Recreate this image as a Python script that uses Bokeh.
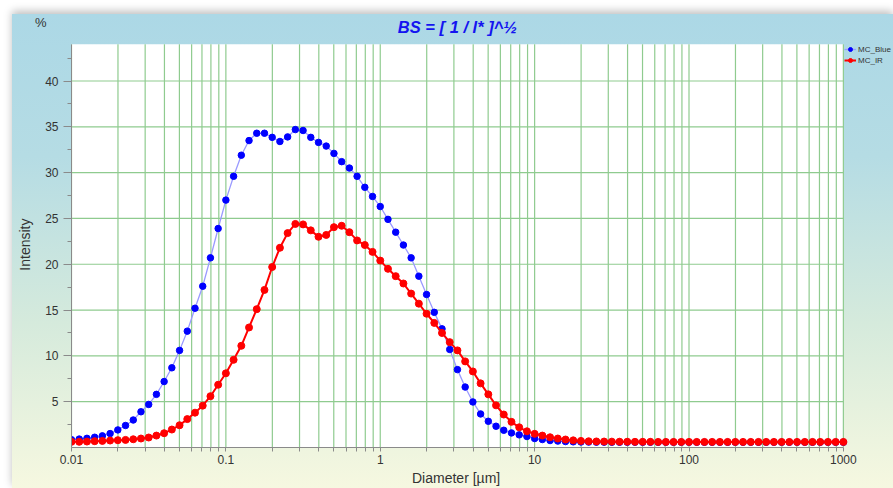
import numpy as np
from bokeh.plotting import figure
from bokeh.models import Legend, LegendItem, FixedTicker, Label, LinearAxis, LogAxis, BoxAnnotation
from bokeh.embed import file_html
from bokeh.resources import INLINE

# Diameter bins (20 per decade, 0.01 .. 1000 µm)
diameter = np.logspace(-2, 3, 101)

mc_blue = [
    0.85, 0.92, 1.00, 1.12, 1.27, 1.52, 1.92, 2.40, 3.00, 3.90,
    4.70, 5.80, 7.20, 8.70, 10.6, 12.7, 15.2, 17.6, 20.7, 23.9,
    27.0, 29.6, 31.9, 33.5, 34.3, 34.3, 33.85, 33.4, 33.9, 34.7,
    34.6, 33.85, 33.3, 32.9, 32.1, 31.2, 30.5, 29.6, 28.4, 27.4,
    26.3, 24.9, 23.5, 22.1, 20.7, 18.7, 16.7, 14.75, 12.95, 10.7,
    8.50, 6.60, 4.97, 3.66, 2.86, 2.32, 1.88, 1.59, 1.38, 1.20,
    0.98, 0.87, 0.76, 0.70, 0.65, 0.62, 0.60, 0.59, 0.58, 0.58,
    0.57, 0.57, 0.57, 0.57, 0.57, 0.57, 0.57, 0.57, 0.57, 0.57,
    0.57, 0.57, 0.57, 0.57, 0.57, 0.57, 0.57, 0.57, 0.57, 0.57,
    0.57, 0.57, 0.57, 0.57, 0.57, 0.57, 0.57, 0.57, 0.57, 0.57,
    0.57,
]

mc_ir = [
    0.62, 0.62, 0.65, 0.69, 0.72, 0.76, 0.80, 0.83, 0.90, 0.98,
    1.09, 1.30, 1.56, 1.96, 2.43, 3.10, 3.80, 4.57, 5.60, 6.85,
    8.10, 9.57, 11.1, 13.1, 15.1, 17.2, 19.7, 21.8, 23.4, 24.4,
    24.35, 23.7, 23.0, 23.2, 24.05, 24.2, 23.5, 22.6, 22.1, 21.35,
    20.4, 19.5, 18.7, 17.9, 16.8, 15.7, 14.6, 13.6, 12.5, 11.5,
    10.6, 9.40, 8.30, 7.00, 5.80, 4.60, 3.60, 2.80, 2.20, 1.77,
    1.49, 1.30, 1.12, 0.98, 0.87, 0.78, 0.72, 0.68, 0.66, 0.65,
    0.64, 0.63, 0.63, 0.62, 0.62, 0.62, 0.61, 0.61, 0.61, 0.61,
    0.61, 0.61, 0.61, 0.61, 0.61, 0.61, 0.61, 0.61, 0.61, 0.61,
    0.61, 0.61, 0.61, 0.61, 0.61, 0.61, 0.61, 0.61, 0.61, 0.61,
    0.61,
]

x_ticks = [0.01, 0.1, 1, 10, 100, 1000]
x_tick_labels = ["0.01", "0.1", "1", "10", "100", "1000"]
x_minor = [m * d for d in [0.01, 0.1, 1, 10, 100] for m in range(2, 10)]
y_ticks = [5, 10, 15, 20, 25, 30, 35, 40]
y_minor = [2.5, 7.5, 12.5, 17.5, 22.5, 27.5, 32.5, 37.5, 42.5]

X_MIN, X_MAX = 0.01, 1000
Y_MIN, Y_MAX = 0, 44
# extra room inside the frame for the title (top) and the legend (right)
X_VIEW_MAX = 2112
Y_VIEW_MAX = 47.26

FONT = "Liberation Sans"
GRID = "#8fcb8f"
TXT = "#333333"

p = figure(
    width=881, height=474, title=None,
    x_axis_type="log", x_range=(X_MIN, X_VIEW_MAX), y_range=(Y_MIN, Y_VIEW_MAX),
    output_backend="svg", toolbar_location=None,
    border_fill_color=None, background_fill_color=None,
    min_border_left=59, min_border_right=0, min_border_top=0, min_border_bottom=40,
    margin=(14, 0, 0, 12),
    styles={
        "background-image": "linear-gradient(to bottom, #acd8e6 0%, #b5dce4 30%, #d5eadc 65%, #f6f8e0 100%)",
        "box-shadow": "0 -3px 8px rgba(0,0,0,0.25)",
    },
)
p.outline_line_color = None
p.xgrid.visible = False
p.ygrid.visible = False

# white plotting area
p.add_layout(BoxAnnotation(left=X_MIN, right=X_MAX, bottom=Y_MIN, top=Y_MAX,
                           fill_color="white", fill_alpha=1, line_color=None, level="underlay"))

# grid lines limited to the plotting area
vx = x_ticks + x_minor
p.segment(x0=vx, y0=[Y_MIN] * len(vx), x1=vx, y1=[Y_MAX] * len(vx),
          line_color=GRID, line_width=1.2)
p.segment(x0=[X_MIN] * len(y_ticks), y0=y_ticks, x1=[X_MAX] * len(y_ticks), y1=y_ticks,
          line_color=GRID, line_width=1.2)

# main axes
p.xaxis.ticker = FixedTicker(ticks=x_ticks, minor_ticks=x_minor)
p.xaxis.major_label_overrides = dict(zip(x_ticks, x_tick_labels))
p.xaxis.bounds = (X_MIN, X_MAX)
p.yaxis.ticker = FixedTicker(ticks=y_ticks, minor_ticks=y_minor)
p.yaxis.bounds = (Y_MIN, Y_MAX)
for ax in (p.xaxis, p.yaxis):
    ax.axis_line_color = "#8a8a8a"
    ax.major_tick_line_color = "#8a8a8a"
    ax.minor_tick_line_color = "#8a8a8a"
    ax.major_tick_in = 0
    ax.minor_tick_in = 0
    ax.major_label_text_font = FONT
    ax.major_label_text_font_size = "12px"
    ax.major_label_text_color = TXT
p.xaxis.major_tick_out = 4
p.xaxis.minor_tick_out = 4
p.xaxis.major_label_standoff = 3
p.yaxis.major_tick_out = 8
p.yaxis.minor_tick_out = 4
p.yaxis.major_label_standoff = 5


def label_axis(cls, tick, text, standoff, size):
    return cls(
        ticker=FixedTicker(ticks=[tick]), major_label_overrides={tick: text},
        axis_line_color=None, major_tick_line_color=None, minor_tick_line_color=None,
        major_tick_out=0, minor_tick_out=0, major_tick_in=0, minor_tick_in=0,
        major_label_standoff=standoff,
        major_label_text_font=FONT, major_label_text_font_size=size,
        major_label_text_color=TXT,
    )


# unit mark "%" above the y axis (outer left axis), which also carries "Intensity"
pct_y = 46.4
x_mid = 3.1
unit_axis = label_axis(LinearAxis, pct_y, "%", -4, "13px")
unit_axis.axis_label = "Intensity" + "\u00a0" * 7
unit_axis.axis_label_standoff = -1
unit_axis.axis_label_text_font = FONT
unit_axis.axis_label_text_font_size = "14px"
unit_axis.axis_label_text_font_style = "normal"
unit_axis.axis_label_text_color = TXT
p.add_layout(unit_axis, "left")
p.add_layout(label_axis(LogAxis, x_mid, "Diameter [µm]", 3, "14px"), "below")

# data
bl = p.line(diameter, mc_blue, line_color="#9a9aff", line_width=1.3)
bp = p.scatter(diameter, mc_blue, size=6.5, fill_color="#0000ff", line_color="#0000ff")
rl = p.line(diameter, mc_ir, line_color="#ff0000", line_width=2)
rp = p.scatter(diameter, mc_ir, size=7, fill_color="#ff0000", line_color="#ff0000")

legend = Legend(
    items=[LegendItem(label="MC_Blue", renderers=[bl, bp]),
           LegendItem(label="MC_IR", renderers=[rl, rp])],
    location=(773, 382),
    background_fill_alpha=0, border_line_color=None,
    label_text_font=FONT, label_text_font_size="8px", label_text_color=TXT,
    glyph_height=10, glyph_width=12, label_height=10, label_standoff=2,
    spacing=1, padding=0, margin=0,
)
p.add_layout(legend)

# chart title
p.add_layout(Label(x=(X_MIN * X_MAX) ** 0.5, y=45.86, text="BS = [ 1 / l* ]^½",
                   text_font=FONT, text_font_size="16.5px", text_font_style="bold italic",
                   text_color="#1414f0", text_align="center", text_baseline="middle"))

open("out.html", "w").write(file_html(p, INLINE))
